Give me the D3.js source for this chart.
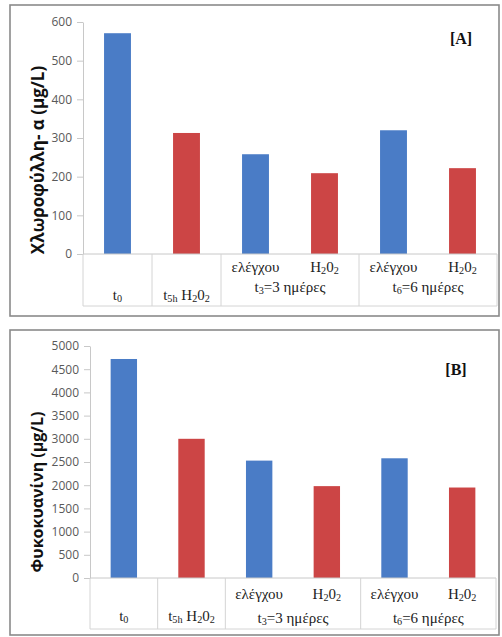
<!DOCTYPE html>
<html><head><meta charset="utf-8">
<script src="https://cdn.jsdelivr.net/npm/d3@7"></script>
<style>
html,body{margin:0;padding:0;background:#fff;}
svg{display:block;}
</style></head><body>
<script>
// First-level category labels; "_{...}" marks a subscript
const barLabels = ["t_{0}", "t_{5h} H_{2}0_{2}", "ελέγχου", "H_{2}0_{2}", "ελέγχου", "H_{2}0_{2}"];
// Second-level groups spanning two bars each
const groupLabels = ["t_{3}=3 ημέρες", "t_{6}=6 ημέρες"];
const groupFirst = [2, 4];
const groupLast = [3, 5];
// Which series each bar belongs to
const barKind = ["control", "peroxide", "control", "peroxide", "control", "peroxide"];
// Measured concentrations (μg/L)
const chlorophyll = [571, 313, 258, 209, 320, 222];
const phycocyanin = [4720, 3000, 2530, 1980, 2580, 1950];
const chlTicks = [0, 100, 200, 300, 400, 500, 600];
const phycoTicks = [0, 500, 1000, 1500, 2000, 2500, 3000, 3500, 4000, 4500, 5000];

const colors = {control: "#4a7cc6", peroxide: "#cc4545"};

const panels = [
  {values: chlorophyll, ticks: chlTicks, title: "Χλωροφύλλη- α (μg/L)", tag: "[A]",
   box: [10, 5, 499, 316], left: 83, right: 497, top: 22, bottom: 254,
   catBottom: 306, subY: 272, singleY: 300, groupY: 292,
   titleX: 37, titleY: 160, titleSize: 17, tagX: 461, tagY: 44},
  {values: phycocyanin, ticks: phycoTicks, title: "Φυκοκυανίνη (μg/L)", tag: "[B]",
   box: [10, 330, 499, 635], left: 90, right: 496, top: 346, bottom: 578,
   catBottom: 629, subY: 599, singleY: 621, groupY: 623,
   titleX: 37, titleY: 492, titleSize: 16, tagX: 456, tagY: 375}
];

const W = 502, H = 637;
const svg = d3.select("body").append("svg").attr("width", W).attr("height", H);

// Writes a label with "_{...}" subscripts as tspans
function richText(sel, str) {
  const parts = str.split(/(_\{[^}]*\})/).filter(s => s.length);
  let lowered = false;
  parts.forEach(p => {
    if (p.startsWith("_{")) {
      sel.append("tspan").attr("font-size", "0.68em")
        .attr("dy", lowered ? null : "0.24em").text(p.slice(2, -1));
      lowered = true;
    } else {
      sel.append("tspan").attr("dy", lowered ? "-0.163em" : null).text(p);
      lowered = false;
    }
  });
}

const serif = "'Liberation Serif', 'Times New Roman', serif";
const sans = "'Open Sans', 'Liberation Sans', sans-serif";

panels.forEach(p => {
  const g = svg.append("g");
  // panel frame
  g.append("rect")
    .attr("x", p.box[0]).attr("y", p.box[1])
    .attr("width", p.box[2] - p.box[0]).attr("height", p.box[3] - p.box[1])
    .attr("fill", "#fff").attr("stroke", "#8a8a8a").attr("stroke-width", 1.6);

  const n = p.values.length;
  const x = d3.scaleBand().domain(d3.range(n))
    .range([p.left, p.right]).paddingInner(0.61).paddingOuter(0.305);
  const y = d3.scaleLinear().domain([0, d3.max(p.ticks)]).range([p.bottom, p.top]);
  // category boundary before band i (i may equal n for the right end)
  const edge = i => p.left + i * x.step();

  // value axis
  const ya = g.append("g").attr("transform", `translate(${p.left},0)`)
    .call(d3.axisLeft(y).tickValues(p.ticks).tickFormat(d3.format("d"))
      .tickSize(6).tickPadding(5).tickSizeOuter(0));
  ya.select(".domain").attr("stroke", "#c8c8c8");
  ya.selectAll(".tick line").attr("stroke", "#c8c8c8");
  ya.selectAll(".tick text").attr("fill", "#595959")
    .style("font-family", sans).style("font-size", "12px");

  // bars
  g.selectAll("rect.bar").data(p.values).join("rect").attr("class", "bar")
    .attr("x", (d, i) => x(i)).attr("width", x.bandwidth())
    .attr("y", d => y(d)).attr("height", d => y(0) - y(d))
    .attr("fill", (d, i) => colors[barKind[i]]);

  // category axis lines
  const lc = "#d4d4d4";
  g.append("line").attr("x1", p.left).attr("x2", p.right)
    .attr("y1", y(0)).attr("y2", y(0)).attr("stroke", "#c8c8c8");
  g.append("line").attr("x1", p.left).attr("x2", p.right)
    .attr("y1", p.catBottom).attr("y2", p.catBottom).attr("stroke", lc);
  const seps = Array.from(new Set([0, 1, 2].concat(groupFirst, [n])));
  g.selectAll("line.sep").data(seps).join("line").attr("class", "sep")
    .attr("x1", d => edge(d)).attr("x2", d => edge(d))
    .attr("y1", y(0)).attr("y2", p.catBottom).attr("stroke", lc);

  // first-level labels
  barLabels.forEach((lab, i) => {
    const inGroup = groupFirst.some((f, k) => i >= f && i <= groupLast[k]);
    const t = g.append("text")
      .attr("x", x(i) + x.bandwidth() / 2)
      .attr("y", inGroup ? p.subY : p.singleY)
      .attr("text-anchor", "middle")
      .style("font-family", serif).style("font-size", "15px").attr("fill", "#222");
    richText(t, lab);
  });
  // second-level labels
  groupLabels.forEach((lab, k) => {
    const cx = (edge(groupFirst[k]) + edge(groupLast[k] + 1)) / 2;
    const t = g.append("text").attr("x", cx).attr("y", p.groupY)
      .attr("text-anchor", "middle")
      .style("font-family", serif).style("font-size", "15px").attr("fill", "#222");
    richText(t, lab);
  });

  // value axis title
  g.append("text")
    .attr("transform", `translate(${p.titleX},${p.titleY}) rotate(-90)`)
    .attr("text-anchor", "middle").attr("dominant-baseline", "central")
    .style("font-family", sans).style("font-weight", "bold").style("font-size", p.titleSize + "px")
    .attr("fill", "#111").text(p.title);

  // panel tag
  g.append("text").attr("x", p.tagX).attr("y", p.tagY).attr("text-anchor", "middle")
    .style("font-family", serif).style("font-weight", "bold").style("font-size", "16px")
    .attr("fill", "#111").text(p.tag);
});
</script>
</body></html>
